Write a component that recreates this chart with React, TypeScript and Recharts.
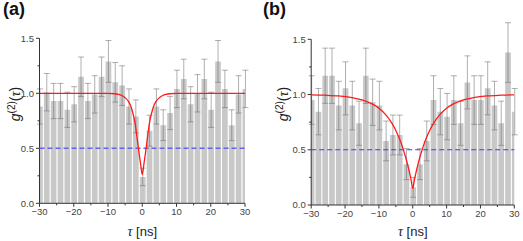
import React from 'react';
import { BarChart, Bar, ErrorBar, XAxis, YAxis, LineChart, Line, ReferenceLine } from 'recharts';

// ---------- data ----------
const tauBins = [-30, -28, -26, -24, -22, -20, -18, -16, -14, -12, -10, -8, -6, -4, -2, 0, 2, 4, 6, 8, 10, 12, 14, 16, 18, 20, 22, 24, 26, 28, 30];

const g2A = [0.88, 1.01, 0.93, 0.93, 0.85, 0.9, 1.15, 0.93, 0.99, 1.15, 1.29, 1.1, 1.07, 0.88, 0.79, 0.24, 0.66, 0.88, 0.71, 0.82, 1.04, 1.13, 0.9, 1.0, 1.13, 0.85, 1.29, 1.04, 0.71, 0.99, 1.04];
const errA = [0.16, 0.17, 0.16, 0.16, 0.16, 0.16, 0.18, 0.16, 0.17, 0.18, 0.19, 0.18, 0.18, 0.16, 0.15, 0.08, 0.14, 0.16, 0.14, 0.15, 0.17, 0.18, 0.16, 0.17, 0.18, 0.16, 0.19, 0.17, 0.14, 0.17, 0.17];

const g2B = [0.95, 0.845, 1.17, 1.17, 0.9, 1.056, 0.9, 0.74, 1.17, 0.93, 0.9, 0.58, 0.634, 0.634, 0.37, 0.16, 0.37, 0.58, 0.95, 0.845, 0.8, 0.95, 0.74, 1.11, 0.95, 0.95, 1.056, 0.9, 0.74, 1.38, 0.845];
const errB = [0.22, 0.21, 0.25, 0.25, 0.22, 0.24, 0.22, 0.2, 0.25, 0.21, 0.22, 0.18, 0.18, 0.18, 0.14, 0.09, 0.14, 0.18, 0.22, 0.21, 0.21, 0.22, 0.2, 0.24, 0.22, 0.22, 0.24, 0.22, 0.2, 0.27, 0.21];

const fitTauA = [-30, -10, -8, -7, -6, -5, -4, -3.5, -3, -2.5, -2, -1.5, -1, -0.5, 0, 0.5, 1, 1.5, 2, 2.5, 3, 3.5, 4, 5, 6, 7, 8, 10, 30];
const fitA = [1.0, 1.0, 0.996, 0.99, 0.98, 0.96, 0.925, 0.895, 0.85, 0.79, 0.71, 0.59, 0.47, 0.36, 0.26, 0.36, 0.47, 0.59, 0.71, 0.79, 0.85, 0.895, 0.925, 0.96, 0.98, 0.99, 0.996, 1.0, 1.0];

const fitTauB = [-30, -26, -22, -18, -15, -12, -10, -8, -6, -5, -4, -3, -2, -1.5, -1, -0.5, 0, 0.5, 1, 1.5, 2, 3, 4, 5, 6, 8, 10, 12, 15, 18, 22, 26, 30];
const fitB = [0.997, 0.994, 0.988, 0.973, 0.952, 0.915, 0.876, 0.818, 0.732, 0.675, 0.606, 0.522, 0.421, 0.363, 0.299, 0.228, 0.15, 0.228, 0.299, 0.363, 0.421, 0.522, 0.606, 0.675, 0.732, 0.818, 0.876, 0.915, 0.952, 0.973, 0.988, 0.994, 0.997];

const xTicks = [-30, -25, -20, -15, -10, -5, 0, 5, 10, 15, 20, 25, 30];
const yTicks = [0, 0.25, 0.5, 0.75, 1.0, 1.25, 1.5];
const refLevel = 0.5;

const barsA = tauBins.map((t, i) => ({ t, g: g2A[i], err: errA[i] }));
const barsB = tauBins.map((t, i) => ({ t, g: g2B[i], err: errB[i] }));
const lineA = fitTauA.map((t, i) => ({ t, v: fitA[i] }));
const lineB = fitTauB.map((t, i) => ({ t, v: fitB[i] }));

// ---------- styling ----------
const FONT = "'Liberation Sans', Arial, Helvetica, sans-serif";
const SERIF = "'Liberation Serif', 'DejaVu Serif', serif";
const AXIS = '#333';
const TICKTXT = '#444';
const H = 241;

const fmtX = (v: number) => (v < 0 ? '\u2212' + Math.abs(v) : String(v));

const XTick = (props: any) => {
  const { x, y, payload } = props;
  const v = payload.value;
  const major = v % 10 === 0;
  return (
    <g>
      <line x1={x} x2={x} y1={y} y2={y + (major ? 3.5 : 2)} stroke={AXIS} strokeWidth={1} />
      {major && (
        <text x={x} y={y + 12} textAnchor="middle" fontSize={9.5} fill={TICKTXT} fontFamily={FONT}>
          {fmtX(v)}
        </text>
      )}
    </g>
  );
};

const YTick = (props: any) => {
  const { x, y, payload } = props;
  const v = payload.value;
  const major = Math.abs(v * 2 - Math.round(v * 2)) < 1e-6;
  return (
    <g>
      <line x1={x - (major ? 3.5 : 2)} x2={x} y1={y} y2={y} stroke={AXIS} strokeWidth={1} />
      {major && (
        <text x={x - 5.5} y={y + 3.4} textAnchor="end" fontSize={9.5} fill={TICKTXT} fontFamily={FONT}>
          {v.toFixed(1)}
        </text>
      )}
    </g>
  );
};

const YTitle = ({ bx, cy }: { bx: number; cy: number }) => (
  <text
    x={bx}
    y={cy}
    transform={`rotate(-90, ${bx}, ${cy})`}
    textAnchor="middle"
    fontSize={14}
    fill="#222"
    fontFamily={FONT}
  >
    <tspan fontStyle="italic">g</tspan>
    <tspan fontSize={10} dy={-5.5}>(2)</tspan>
    <tspan dy={5.5}>(</tspan>
    <tspan fontFamily={SERIF} fontStyle="italic">τ</tspan>
    <tspan>)</tspan>
  </text>
);

const XTitle = ({ cx, by }: { cx: number; by: number }) => (
  <text x={cx} y={by} textAnchor="middle" fontSize={13} fill="#222" fontFamily={FONT}>
    <tspan fontFamily={SERIF} fontStyle="italic" fontSize={14}>τ</tspan>
    <tspan> [ns]</tspan>
  </text>
);

type PanelProps = {
  left: number;
  width: number;
  plotLeft: number;
  plotRight: number;
  plotTop: number;
  plotBottom: number;
  bars: { t: number; g: number; err: number }[];
  fit: { t: number; v: number }[];
  label: string;
  yTitleX: number;
  blue: string;
  blueWidth: number;
};

const Panel = (p: PanelProps) => {
  const mRight = p.width - p.plotRight;
  const xH = H - p.plotBottom;
  const plotCx = (p.plotLeft + p.plotRight) / 2;
  return (
    <div style={{ position: 'absolute', left: p.left, top: 0, width: p.width, height: H }}>
      <div style={{ position: 'absolute', left: 0, top: 0 }}>
        <BarChart
          width={p.width}
          height={H}
          data={p.bars}
          margin={{ top: p.plotTop, right: mRight, left: 0, bottom: 0 }}
          barSize={5.7}
        >
          <XAxis
            type="number"
            dataKey="t"
            domain={[-30, 30]}
            allowDataOverflow
            ticks={xTicks}
            interval={0}
            height={xH}
            tickSize={0}
            tickMargin={0}
            tickLine={false}
            tick={<XTick />}
            axisLine={{ stroke: AXIS, strokeWidth: 1 }}
            label={<XTitle cx={plotCx} by={236} />}
          />
          <YAxis
            type="number"
            domain={[0, 1.5]}
            allowDataOverflow
            ticks={yTicks}
            interval={0}
            width={p.plotLeft}
            tickSize={0}
            tickMargin={0}
            tickLine={false}
            tick={<YTick />}
            axisLine={{ stroke: AXIS, strokeWidth: 1 }}
            label={<YTitle bx={p.yTitleX} cy={104} />}
          />
          <Bar dataKey="g" fill="#c8c8c8" isAnimationActive={false}>
            <ErrorBar dataKey="err" width={3} stroke="#707070" strokeOpacity={0.55} strokeWidth={1} />
          </Bar>
        </BarChart>
      </div>
      <div style={{ position: 'absolute', left: 0, top: 0 }}>
        <LineChart
          width={p.width}
          height={H}
          data={p.fit}
          margin={{ top: p.plotTop, right: mRight, left: p.plotLeft, bottom: xH }}
        >
          <XAxis type="number" dataKey="t" domain={[-30, 30]} allowDataOverflow hide />
          <YAxis type="number" domain={[0, 1.5]} allowDataOverflow hide />
          <ReferenceLine y={refLevel} stroke={p.blue} strokeWidth={p.blueWidth} strokeDasharray="5 3" />
          <Line
            type="monotone"
            dataKey="v"
            stroke="#ff1a1a"
            strokeWidth={1.3}
            dot={false}
            activeDot={false}
            isAnimationActive={false}
          />
        </LineChart>
      </div>
      <div
        style={{
          position: 'absolute',
          left: 3,
          top: -2,
          fontFamily: FONT,
          fontWeight: 'bold',
          fontSize: 18,
          color: '#111',
          lineHeight: '22px',
        }}
      >
        {p.label}
      </div>
    </div>
  );
};

export default function App() {
  return (
    <div style={{ position: 'absolute', left: 0, top: 0, width: 523, height: H, background: '#fff', overflow: 'hidden' }}>
      <Panel
        left={0}
        width={260}
        plotLeft={39.5}
        plotRight={245}
        plotTop={38.3}
        plotBottom={203.3}
        bars={barsA}
        fit={lineA}
        label="(a)"
        yTitleX={20}
        blue="#6464f0"
        blueWidth={1.5}
      />
      <Panel
        left={260}
        width={263}
        plotLeft={51.2}
        plotRight={254.3}
        plotTop={39.3}
        plotBottom={205}
        bars={barsB}
        fit={lineB}
        label="(b)"
        yTitleX={28}
        blue="#3a3aff"
        blueWidth={1.2}
      />
    </div>
  );
}
